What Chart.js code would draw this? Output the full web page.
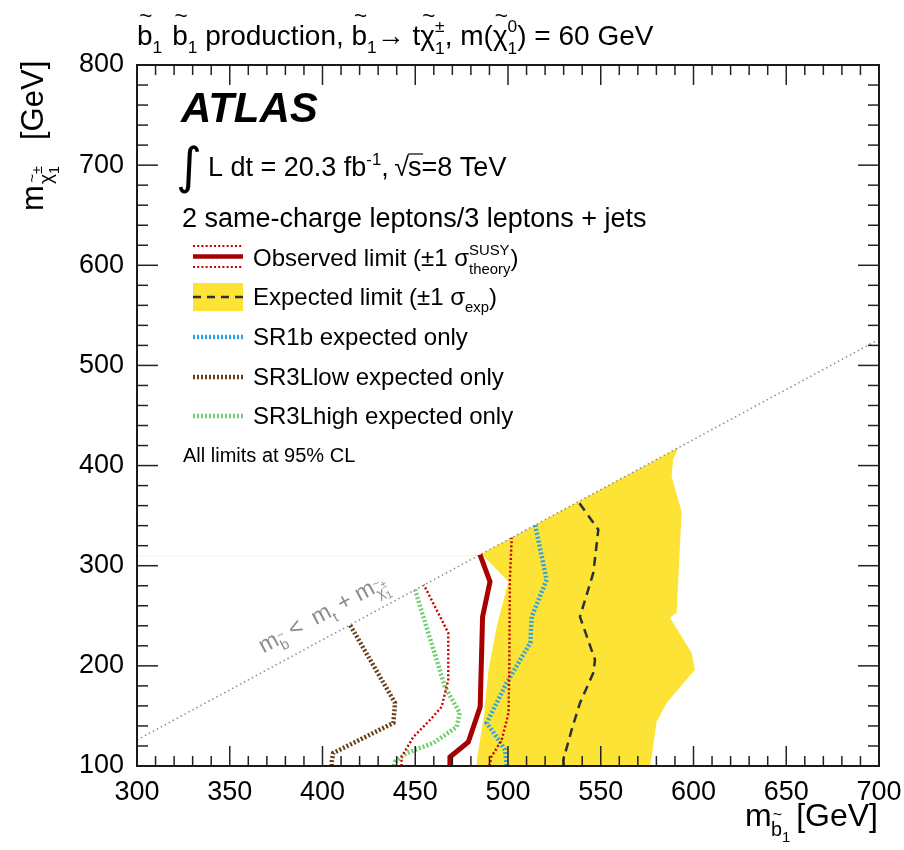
<!DOCTYPE html>
<html>
<head>
<meta charset="utf-8">
<script src="https://cdn.jsdelivr.net/npm/chart.js@4.4.1/dist/chart.umd.min.js"></script>
<style>
html,body{margin:0;padding:0;background:#fff;}
#wrap{position:relative;width:904px;height:850px;}
</style>
</head>
<body>
<div id="wrap"><canvas id="limits"></canvas></div>
<script>
// axis ranges and tick labels
const xTicks = [300, 350, 400, 450, 500, 550, 600, 650, 700]
const yTicks = [100, 200, 300, 400, 500, 600, 700, 800]
const xMinorStep = 10
const yMinorStep = 20

// expected limit +-1 sigma band (closed outline)
const bandX = [483, 483.5, 487, 489.5, 494, 500.2, 485.8, 591.8, 589, 588.2, 593.6, 590.9, 587.3, 599, 600.8, 585.5, 580.1, 577.4, 576.5]
const bandY = [100, 110, 150, 196, 240, 284, 311.8, 417.8, 406, 389, 354, 253, 248, 213, 196, 163, 144, 109, 100]

// expected limit
const expX = [530, 529.8, 534.3, 538.8, 546, 546.9, 538.8, 546, 548.7, 537.9]
const expY = [100, 106, 136, 163, 193, 206, 249, 293, 336, 364]

// observed limit and theory variations
const obsX = [468.7, 468.7, 478.6, 485, 486.3, 490.3, 484.9]
const obsY = [100, 109, 124, 159, 249, 284, 311]
const obsUpX = [490, 491, 496.6, 500.3, 500.7, 501, 502]
const obsUpY = [100, 109, 126, 153, 199, 286, 328]
const obsDnX = [442.6, 442.6, 449, 458, 464.2, 467.8, 467.8, 454.6]
const obsDnY = [100, 109, 129, 146, 159, 186, 233, 281]

// single signal region expected limits
const sr1bX = [499.3, 498.4, 493.9, 488.5, 499.3, 512, 512.8, 520.8, 514.6]
const sr1bY = [100, 116, 129, 143, 183, 223, 249, 286, 341]
const sr3lowX = [405, 405, 405.8, 438.2, 439.1, 414.8]
const sr3lowY = [100, 104, 113, 143, 163, 241]
const sr3highX = [438.5, 439, 445.4, 459.8, 472.3, 474, 466, 449.9]
const sr3highY = [100, 104, 113, 123, 139, 153, 179, 276]

// kinematic limit m(b) = m(t) + m(chi)
const diagX = [300, 698]
const diagY = [126, 524]
const edgeX = [300, 484]
const edgeY = [310, 310]

const FONT = "'Liberation Sans', Arial, sans-serif"
const YELLOW = '#fde335'
const OBS = '#a80000'
const OBSDOT = '#c40000'
const EXP = '#2b3035'
const BLUE = '#2aa3ea'
const BROWN = '#6b3d14'
const GREEN = '#6fd06f'

const pts = (xs, ys) => xs.map((v, i) => ({x: v, y: ys[i]}))

function richText(ctx, x, y, parts, size, color) {
    ctx.fillStyle = color
    ctx.textBaseline = 'alphabetic'
    ctx.textAlign = 'left'
    const small = size * 0.62
    parts.forEach(p => {
        if (typeof p === 'string') {
            ctx.font = `${size}px ${FONT}`
            ctx.fillText(p, x, y)
            x += ctx.measureText(p).width
            return
        }
        const s = p.small ? small : size
        if (p.tilde) {
            ctx.font = `${s}px ${FONT}`
            const w = ctx.measureText(p.tilde).width
            const yy = y + (p.small ? size * 0.3 : 0)
            ctx.fillText(p.tilde, x, yy)
            ctx.font = `${s * 0.8}px ${FONT}`
            const tw = ctx.measureText('~').width
            ctx.fillText('~', x + w / 2 - tw / 2 + s * 0.04, yy - s * 0.8)
            x += w
        }
        if (p.sub) {
            ctx.font = `${small}px ${FONT}`
            ctx.fillText(p.sub, x, y + size * 0.3)
            x += ctx.measureText(p.sub).width
        }
        if (p.sup) {
            ctx.font = `${small}px ${FONT}`
            ctx.fillText(p.sup, x, y - size * 0.42)
            x += ctx.measureText(p.sup).width
        }
        if (p.stack) {
            const f = p.small ? small * 0.75 : small
            const up = p.small ? size * 0.02 : size * 0.45
            const dn = p.small ? size * 0.5 : size * 0.32
            ctx.font = `${f}px ${FONT}`
            ctx.fillText(p.stack[0], x, y - up)
            ctx.fillText(p.stack[1], x, y + dn)
            x += Math.max(ctx.measureText(p.stack[0]).width, ctx.measureText(p.stack[1]).width)
        }
        if (p.gap) x += p.gap
    })
    return x
}

function strokeLine(ctx, x1, y1, x2, y2, color, width, dash) {
    ctx.beginPath()
    ctx.strokeStyle = color
    ctx.lineWidth = width
    ctx.setLineDash(dash || [])
    ctx.moveTo(x1, y1)
    ctx.lineTo(x2, y2)
    ctx.stroke()
    ctx.setLineDash([])
}

const atlasDecor = {
    id: 'atlasDecor',
    afterDraw(chart) {
        const {ctx, chartArea: a, scales} = chart
        const sx = scales.x, sy = scales.y
        ctx.save()
        // ticks inside the frame on all four sides
        const xMajor = xTicks[1] - xTicks[0], yMajor = yTicks[1] - yTicks[0]
        for (let v = xTicks[0]; v <= xTicks[xTicks.length - 1]; v += xMinorStep) {
            const px = sx.getPixelForValue(v)
            const len = (v - xTicks[0]) % xMajor === 0 ? 20 : 10
            strokeLine(ctx, px, a.bottom, px, a.bottom - len, '#222', 1.5)
            strokeLine(ctx, px, a.top, px, a.top + len, '#222', 1.5)
        }
        for (let v = yTicks[0]; v <= yTicks[yTicks.length - 1]; v += yMinorStep) {
            const py = sy.getPixelForValue(v)
            const len = (v - yTicks[0]) % yMajor === 0 ? 21 : 11
            strokeLine(ctx, a.left, py, a.left + len, py, '#222', 1.5)
            strokeLine(ctx, a.right, py, a.right - len, py, '#222', 1.5)
        }
        ctx.strokeStyle = '#1a1a1a'
        ctx.lineWidth = 2
        ctx.strokeRect(a.left, a.top, a.right - a.left, a.bottom - a.top)

        // title
        richText(ctx, 137, 45, [
            {tilde: 'b'}, {sub: '1'}, {gap: 10}, {tilde: 'b'}, {sub: '1'}, ' production, ',
            {tilde: 'b'}, {sub: '1'}, '\u2192 t', {tilde: '\u03c7'}, {stack: ['\u00b1', '1']},
            ', m(', {tilde: '\u03c7'}, {stack: ['0', '1']}, ') = 60 GeV'
        ], 28, '#000')

        // axis titles
        richText(ctx, 745, 826, ['m'], 32, '#000')
        richText(ctx, 771, 826, [{tilde: 'b', small: true}, {stack: ['', '1'], small: true}], 32, '#000')
        ctx.font = `32px ${FONT}`
        ctx.textAlign = 'right'
        ctx.fillText('[GeV]', a.right - 1, 826)

        ctx.save()
        ctx.translate(43, 211)
        ctx.rotate(-Math.PI / 2)
        richText(ctx, 0, 0, ['m'], 31, '#000')
        richText(ctx, 27, 0, [{tilde: '\u03c7', small: true}, {stack: ['\u00b1', '1'], small: true}], 31, '#000')
        richText(ctx, 71, 0, ['[GeV]'], 31, '#000')
        ctx.restore()

        // ATLAS label and luminosity
        ctx.fillStyle = '#000'
        ctx.textAlign = 'left'
        ctx.font = `italic bold 42px ${FONT}`
        ctx.fillText('ATLAS', 181, 122)
        ctx.font = `50px 'DejaVu Sans'`
        ctx.fillText('\u222b', 176, 183)
        let lx = richText(ctx, 208, 176, ['L dt = 20.3 fb', {sup: '-1'}, ', '], 27, '#000')
        ctx.font = `27px ${FONT}`
        ctx.fillText('\u221a', lx - 2, 176)
        lx += ctx.measureText('\u221a').width - 3
        strokeLine(ctx, lx, 154, lx + 15, 154, '#000', 1.2)
        richText(ctx, lx, 176, ['s=8 TeV'], 27, '#000')
        richText(ctx, 182, 227, ['2 same-charge leptons/3 leptons + jets'], 27, '#000')

        // legend
        const l1 = 193, l2 = 243, tx = 253
        strokeLine(ctx, l1, 246, l2, 246, OBSDOT, 2.2, [2, 2.2])
        strokeLine(ctx, l1, 267, l2, 267, OBSDOT, 2.2, [2, 2.2])
        strokeLine(ctx, l1, 256.5, l2, 256.5, OBS, 4.5)
        richText(ctx, tx, 266, ['Observed limit (\u00b11 \u03c3', {stack: ['SUSY', 'theory']}, ')'], 24, '#000')
        ctx.fillStyle = YELLOW
        ctx.fillRect(l1, 283, l2 - l1, 28)
        strokeLine(ctx, l1, 297, l2, 297, EXP, 2.5, [8, 6])
        richText(ctx, tx, 305, ['Expected limit (\u00b11 \u03c3', {sub: 'exp'}, ')'], 24, '#000')
        strokeLine(ctx, l1, 337, l2, 337, BLUE, 4.5, [2, 2])
        richText(ctx, tx, 345, ['SR1b expected only'], 24, '#000')
        strokeLine(ctx, l1, 377, l2, 377, BROWN, 4.5, [2, 2])
        richText(ctx, tx, 385, ['SR3Llow expected only'], 24, '#000')
        strokeLine(ctx, l1, 416, l2, 416, GREEN, 4.5, [2, 2])
        richText(ctx, tx, 424, ['SR3Lhigh expected only'], 24, '#000')
        richText(ctx, 183, 462, ['All limits at 95% CL'], 20, '#000')

        // kinematic boundary label along the diagonal
        const p0x = sx.getPixelForValue(diagX[0]), p0y = sy.getPixelForValue(diagY[0])
        const p1x = sx.getPixelForValue(diagX[1]), p1y = sy.getPixelForValue(diagY[1])
        const ang = Math.atan2(p1y - p0y, p1x - p0x)
        ctx.save()
        ctx.translate(sx.getPixelForValue(368), sy.getPixelForValue(194))
        ctx.rotate(ang)
        richText(ctx, 9, -16, ['m', {tilde: 'b', small: true}, ' <  m', {sub: 't'}, ' + m', {tilde: '\u03c7', small: true}, {stack: ['\u00b1', '1'], small: true}], 23, '#8c8c8c')
        ctx.restore()
        ctx.restore()
    }
}

const lineSet = (label, xs, ys, color, width, dash, order) => ({
    label: label,
    data: pts(xs, ys),
    borderColor: color,
    borderWidth: width,
    borderDash: dash,
    borderCapStyle: 'butt',
    pointRadius: 0,
    showLine: true,
    fill: false,
    tension: 0,
    order: order
})

const limitsChart = new Chart(document.querySelector('#limits'), {
    type: 'scatter',
    data: {
        datasets: [
            lineSet('Observed limit', obsX, obsY, OBS, 5, [], 1),
            lineSet('Observed +1 sigma', obsUpX, obsUpY, OBSDOT, 2.4, [2, 2.2], 2),
            lineSet('Observed -1 sigma', obsDnX, obsDnY, OBSDOT, 2.4, [2, 2.2], 2),
            lineSet('Expected limit', expX, expY, EXP, 2.5, [9, 6], 3),
            lineSet('SR1b expected only', sr1bX, sr1bY, BLUE, 4.5, [2, 2], 4),
            lineSet('SR3Llow expected only', sr3lowX, sr3lowY, BROWN, 4.5, [2, 2], 4),
            lineSet('SR3Lhigh expected only', sr3highX, sr3highY, GREEN, 4.5, [2, 2], 4),
            lineSet('kinematic limit', diagX, diagY, '#8c8c8c', 1.5, [1.5, 3], 8),
            lineSet('band edge', edgeX, edgeY, '#fbf8dc', 1.5, [], 9),
            {
                label: 'Expected +-1 sigma',
                data: pts(bandX, bandY),
                showLine: true,
                borderWidth: 0,
                borderColor: YELLOW,
                backgroundColor: YELLOW,
                pointRadius: 0,
                fill: 'shape',
                tension: 0,
                order: 10
            }
        ]
    },
    options: {
        responsive: true,
        maintainAspectRatio: false,
        animation: false,
        layout: {padding: {top: 65, right: 25, left: 0, bottom: 0}},
        plugins: {
            legend: {display: false},
            tooltip: {enabled: false}
        },
        scales: {
            x: {
                type: 'linear',
                min: xTicks[0],
                max: xTicks[xTicks.length - 1],
                afterFit: scale => {
                    scale.height = 84
                    scale.paddingLeft = 0
                    scale.paddingRight = 0
                },
                afterBuildTicks: scale => { scale.ticks = xTicks.map(v => ({value: v})) },
                grid: {display: false, drawTicks: false},
                border: {display: false},
                ticks: {color: '#000', padding: 10, maxRotation: 0, font: {family: FONT, size: 27}}
            },
            y: {
                type: 'linear',
                min: yTicks[0],
                max: yTicks[yTicks.length - 1],
                afterFit: scale => { scale.width = 137 },
                afterBuildTicks: scale => { scale.ticks = yTicks.map(v => ({value: v})) },
                grid: {display: false, drawTicks: false},
                border: {display: false},
                ticks: {color: '#000', padding: 13, font: {family: FONT, size: 27}}
            }
        }
    },
    plugins: [atlasDecor]
})
</script>
</body>
</html>
